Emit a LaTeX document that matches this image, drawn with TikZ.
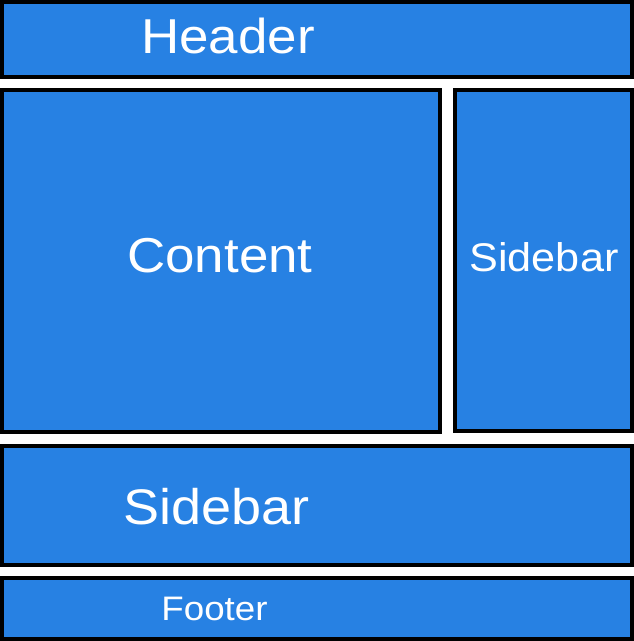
\documentclass[tikz,border=0pt]{standalone}
\usepackage{fontspec}
\newfontfamily\panelfont{Liberation Sans}
\usetikzlibrary{positioning}
\definecolor{panelblue}{HTML}{2781E3}
\tikzset{panel/.style={draw=black, line width=4pt, fill=panelblue, inner sep=0pt},
         caption/.style={text=white, inner sep=0pt, anchor=base, xscale=1.08},
         fsize/.style={font=\panelfont\fontsize{#1}{#1}\selectfont}}

\begin{document}
\begin{tikzpicture}[x=1pt, y=-1pt]
   \useasboundingbox (0,0) rectangle (634,641);
   % the five panels
   \node[panel, minimum width=630pt, minimum height=75pt] (header) at (317,39.5) {};
   \node[panel, minimum width=438pt, minimum height=342pt] (content) at (221,261) {};
   \node[panel, minimum width=177pt, minimum height=341pt] (side) at (543.5,260.5) {};
   \node[panel, minimum width=630pt, minimum height=119pt] (bottom) at (317,505.5) {};
   \node[panel, minimum width=630pt, minimum height=61pt] (footer) at (317,608.5) {};
   % their labels
   \node[caption, fsize=49] (header-t) at (228,53) {Header};
   \node[caption, fsize=49] (content-t) at (220,272) {Content};
   \node[caption, fsize=40] (side-t) at (544,271) {Sidebar};
   \node[caption, fsize=50] (bottom-t) at (216.5,524) {Sidebar};
   \node[caption, fsize=34] (footer-t) at (214.5,620) {Footer};
\end{tikzpicture}
\end{document}
